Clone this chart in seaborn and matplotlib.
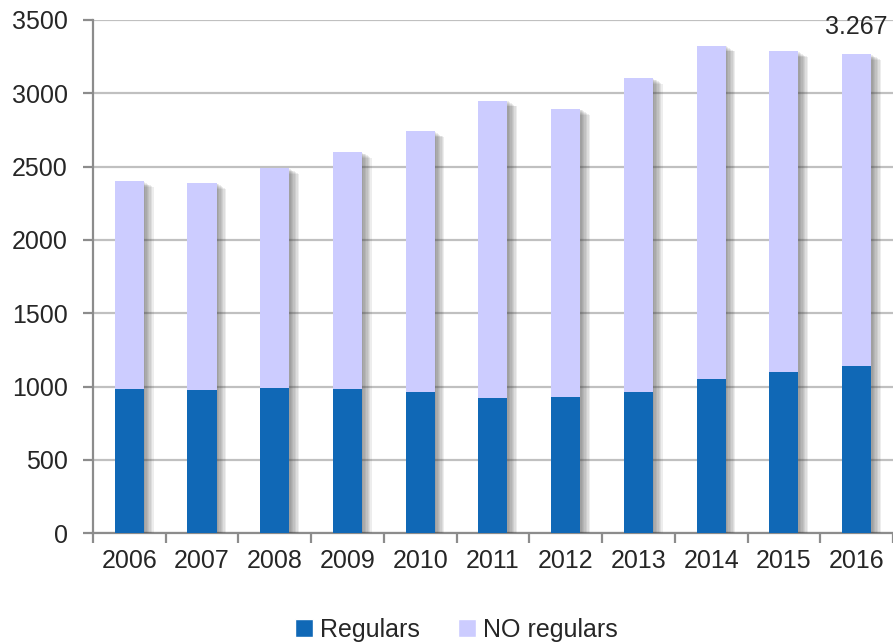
import matplotlib
matplotlib.use("Agg")
import matplotlib.pyplot as plt
import matplotlib.patheffects as pe
from matplotlib.patches import Patch
import seaborn as sns
import pandas as pd

years = ["2006", "2007", "2008", "2009", "2010", "2011", "2012", "2013", "2014", "2015", "2016"]
regulars = [982, 980, 991, 986, 964, 923, 930, 966, 1053, 1098, 1143]
no_regulars = [1418, 1410, 1499, 1614, 1776, 2027, 1965, 2139, 2272, 2187, 2124]
total_label = "3.267"

df = pd.DataFrame({"year": years, "Regulars": regulars, "NO regulars": no_regulars})
df["total"] = df["Regulars"] + df["NO regulars"]

dark = "#1068B6"
light = "#CCCCFF"

sns.set_theme(style="white")
plt.rcParams["font.family"] = ["Liberation Sans", "DejaVu Sans"]
FS = 18

fig = plt.figure(figsize=(8.93, 6.44), dpi=100)
ax = fig.add_axes([0.104, 0.172, 0.896, 0.797])

sns.barplot(data=df, x="year", y="total", color=light, width=0.4,
            saturation=1, linewidth=0, ax=ax, zorder=3)
n_light = len(ax.patches)
shadow = [pe.SimplePatchShadow(offset=(d, -d * 0.6), shadow_rgbFace="#404040", alpha=0.09)
          for d in (1, 2, 3, 4, 5, 6, 7)]
for p in ax.patches[:n_light]:
    p.set_path_effects(shadow + [pe.Normal()])
sns.barplot(data=df, x="year", y="Regulars", color=dark, width=0.4,
            saturation=1, linewidth=0, ax=ax, zorder=4)

labels = [""] * (len(years) - 1) + [total_label]
ax.bar_label(ax.containers[0], labels=labels, padding=11, fontsize=FS)

ax.set_ylim(0, 3500)
ax.set_yticks(range(0, 3501, 500))
ax.set_xlim(-0.5, len(years) - 0.5)
ax.set_xlabel("")
ax.set_ylabel("")
ax.yaxis.grid(True, color="#C0C0C0", linewidth=1.6, zorder=0)
ax.set_axisbelow(True)

for s in ["top", "right"]:
    ax.spines[s].set_visible(False)
for s in ["left", "bottom"]:
    ax.spines[s].set_color("#8C8C8C")
    ax.spines[s].set_linewidth(1.6)

ax.tick_params(axis="y", which="major", direction="out", length=7, width=1.6,
               color="#8C8C8C", labelsize=FS, pad=11, left=True)
ax.tick_params(axis="x", which="major", length=0, labelsize=FS, pad=11)
ax.set_xticks([i - 0.5 for i in range(len(years) + 1)], minor=True)
ax.tick_params(axis="x", which="minor", direction="out", length=7, width=1.6,
               color="#8C8C8C", bottom=True)

handles = [Patch(facecolor=dark, label="Regulars"), Patch(facecolor=light, label="NO regulars")]
fig.legend(handles=handles, loc="center", bbox_to_anchor=(0.511, 0.022), ncol=2,
           frameon=False, fontsize=FS, handlelength=0.72, handleheight=0.72,
           handletextpad=0.25, columnspacing=1.55)

fig.savefig("out.png", dpi=100)
